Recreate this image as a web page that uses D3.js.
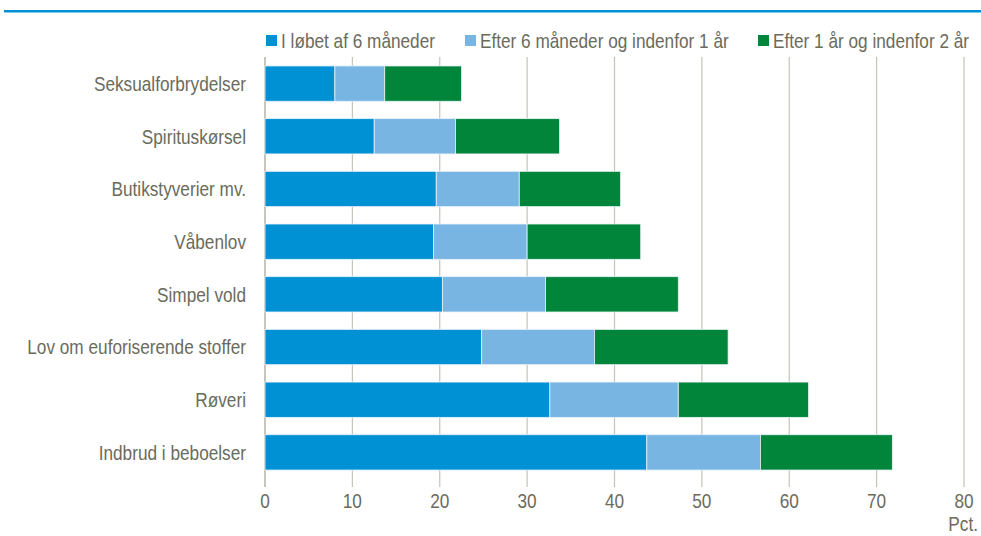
<!DOCTYPE html>
<html><head><meta charset="utf-8">
<script src="https://cdn.jsdelivr.net/npm/d3@7"></script>
<style>body{margin:0;background:#fff}svg{display:block}text{font-family:"Liberation Sans",Arial,sans-serif;fill:#6b6b5c}</style>
</head><body><svg id="c" width="981" height="536"></svg>
<script>
const categories = ["Seksualforbrydelser","Spirituskørsel","Butikstyverier mv.","Våbenlov","Simpel vold","Lov om euforiserende stoffer","Røveri","Indbrud i beboelser"];
const seriesNames = ["I løbet af 6 måneder","Efter 6 måneder og indenfor 1 år","Efter 1 år og indenfor 2 år"];
const within6m = [8.0,12.5,19.6,19.3,20.3,24.8,32.6,43.7];
const within1y = [5.7,9.3,9.5,10.7,11.8,12.9,14.7,13.0];
const within2y = [8.8,11.9,11.6,13.0,15.2,15.3,14.9,15.1];
const xTicks = [0,10,20,30,40,50,60,70,80];
const unitLabel = "Pct.";
const colors = ["#0091d5","#78b5e3","#00853b"];

const SX = 0.82, FS = 21;
const svg = d3.select("#c");
const x = d3.scaleLinear().domain([0,80]).range([265,964]);
const y = d3.scaleBand().domain(categories).range([57,479]).paddingInner(0.33).paddingOuter(0.17);

function ntext(sel, fx, fy, anchor, txt, dy){
  const g = sel.append("g").attr("transform", d=>`translate(${fx(d)},${fy(d)}) scale(${SX},1)`);
  g.append("text").attr("text-anchor",anchor).attr("font-size",FS).attr("dy",dy||0).text(txt);
  return g;
}

// top rule
svg.append("rect").attr("x",4).attr("y",10).attr("width",977).attr("height",2.5).attr("fill","#0091d5");

// gridlines
svg.append("g").selectAll("line").data(xTicks.slice(1)).join("line")
  .attr("x1",d=>x(d)).attr("x2",d=>x(d)).attr("y1",57).attr("y2",487)
  .attr("stroke","#c4c4b8").attr("stroke-width",1.2);
svg.append("line").attr("x1",x(0)).attr("x2",x(0)).attr("y1",57).attr("y2",487)
  .attr("stroke","#a8a898").attr("stroke-width",1.3);

// stacked data
const rows = categories.map((c,i)=>({cat:c, v:[within6m[i],within1y[i],within2y[i]]}));
const stack = d3.stack().keys([0,1,2]).value((d,k)=>d.v[k]);
const layers = stack(rows);
svg.append("g").selectAll("g").data(layers).join("g")
  .attr("fill",(d,i)=>colors[i])
  .selectAll("rect").data(d=>d).join("rect")
  .attr("x",d=>x(d[0])).attr("width",d=>x(d[1])-x(d[0]))
  .attr("y",d=>y(d.data.cat)).attr("height",y.bandwidth())
  .attr("stroke","#e8f2f8").attr("stroke-width",0.8);

// category labels
const cl = svg.append("g").selectAll("g").data(categories).join("g");
ntext(cl, d=>246, d=>y(d)+y.bandwidth()/2, "end", d=>d, "0.35em");

// x tick labels
const tl = svg.append("g").selectAll("g").data(xTicks).join("g");
ntext(tl, d=>x(d), d=>508, "middle", d=>d);
ntext(svg.append("g").datum(unitLabel), d=>978, d=>531, "end", d=>d);

// legend
const legX = [266,465,758];
const leg = svg.append("g").selectAll("g").data(seriesNames).join("g")
  .attr("transform",(d,i)=>`translate(${legX[i]},41)`);
leg.append("rect").attr("x",0).attr("y",-6).attr("width",11).attr("height",11).attr("fill",(d,i)=>colors[i]);
ntext(leg, d=>15, d=>0, "start", d=>d, "0.35em");
</script></body></html>
